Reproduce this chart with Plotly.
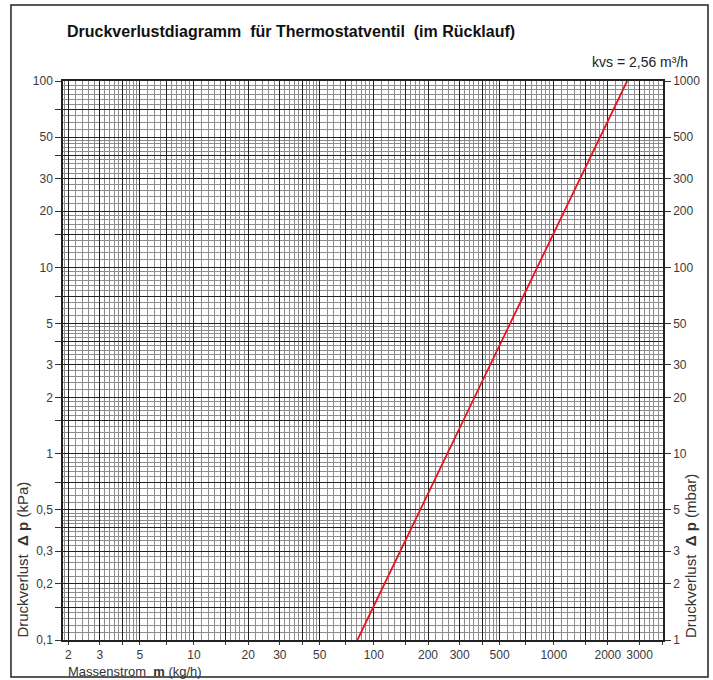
import plotly.graph_objects as go

# ---- data ----
mass_flow_kgh = [81, 2560]          # Massenstrom m (kg/h)
dp_kpa = [0.1, 100]                 # Druckverlust Δp (kPa)

x_tick_vals = [2, 3, 5, 10, 20, 30, 50, 100, 200, 300, 500, 1000, 2000, 3000]
x_tick_text = ["2", "3", "5", "10", "20", "30", "50", "100", "200", "300", "500", "1000", "2000", "3000"]
y_tick_vals = [0.1, 0.2, 0.3, 0.5, 1, 2, 3, 5, 10, 20, 30, 50, 100]
y_tick_text = ["0,1", "0,2", "0,3", "0,5", "1", "2", "3", "5", "10", "20", "30", "50", "100"]
y2_tick_vals = [1, 2, 3, 5, 10, 20, 30, 50, 100, 200, 300, 500, 1000]
y2_tick_text = ["1", "2", "3", "5", "10", "20", "30", "50", "100", "200", "300", "500", "1000"]

# log-paper grid mantissas
major_mant = [1, 1.5, 2, 3, 4, 5, 7]
minor_mant = [1.1, 1.2, 1.3, 1.4, 1.6, 1.7, 1.8, 1.9, 2.2, 2.4, 2.6, 2.8,
              3.2, 3.4, 3.6, 3.8, 4.2, 4.4, 4.6, 4.8, 5.5, 6, 6.5, 7.5, 8, 8.5, 9, 9.5]


def grid(mant, decades, lo, hi):
    out = []
    for d in decades:
        for m in mant:
            v = round(m * 10 ** d, 6)
            if lo <= v <= hi:
                out.append(v)
    return out


X_LO, X_HI = 1.87, 4050
Y_LO, Y_HI = 0.1, 100

x_major = grid(major_mant, range(0, 4), X_LO, X_HI)
x_minor = grid(minor_mant, range(0, 4), X_LO, X_HI)
y_major = grid(major_mant, range(-1, 3), Y_LO, Y_HI)
y_minor = grid(minor_mant, range(-1, 3), Y_LO, Y_HI)


def label_for(v, vals, texts):
    for tv, tt in zip(vals, texts):
        if abs(tv - v) < 1e-9 * max(1, tv):
            return tt
    return ""


x_major_all = sorted(set(x_major) | set(x_tick_vals))
y_major_all = sorted(set(y_major) | set(y_tick_vals))

fig = go.Figure()
fig.add_trace(go.Scatter(
    x=mass_flow_kgh, y=dp_kpa, mode="lines",
    line=dict(color="#e8141c", width=1.8), showlegend=False, hoverinfo="x+y"))
# same line on the mbar scale (invisible) so the right axis is drawn
fig.add_trace(go.Scatter(
    x=mass_flow_kgh, y=[v * 10 for v in dp_kpa], mode="lines", yaxis="y2",
    line=dict(color="rgba(0,0,0,0)", width=1), showlegend=False, hoverinfo="skip"))

FONT = "Liberation Sans, Arial, sans-serif"
tick_font = dict(family=FONT, size=12, color="#3a3a3a")

fig.update_layout(
    width=713, height=680,
    margin=dict(l=63, r=50, t=81, b=40),
    paper_bgcolor="white", plot_bgcolor="white",
    xaxis=dict(
        type="log", range=[0.2718, 3.6075],
        tickmode="array", tickvals=x_major_all,
        ticktext=[label_for(v, x_tick_vals, x_tick_text) for v in x_major_all],
        ticks="outside", ticklen=3, tickcolor="#333", tickwidth=1,
        tickfont=tick_font,
        showgrid=True, gridcolor="#222", gridwidth=1.4,
        minor=dict(tickmode="array", tickvals=x_minor, showgrid=True,
                   gridcolor="#8c8c8c", gridwidth=1, ticks=""),
        showline=True, linecolor="#222", linewidth=1.5, mirror=True,
        zeroline=False, fixedrange=True,
    ),
    yaxis=dict(
        type="log", range=[-1, 2],
        tickmode="array", tickvals=y_major_all,
        ticktext=[label_for(v, y_tick_vals, y_tick_text) for v in y_major_all],
        ticks="outside", ticklen=6, tickcolor="#333", tickwidth=1,
        tickfont=tick_font,
        showgrid=True, gridcolor="#222", gridwidth=1.4,
        minor=dict(tickmode="array", tickvals=y_minor, showgrid=True,
                   gridcolor="#8c8c8c", gridwidth=1, ticks=""),
        showline=True, linecolor="#222", linewidth=1.5, mirror=True,
        zeroline=False, fixedrange=True,
    ),
    yaxis2=dict(
        type="log", range=[0, 3], overlaying="y", side="right",
        tickmode="array", tickvals=y2_tick_vals, ticktext=y2_tick_text,
        ticks="outside", ticklen=6, tickcolor="#333", tickwidth=1,
        tickfont=tick_font, showgrid=False, zeroline=False,
        showline=True, linecolor="#222", linewidth=1.5, fixedrange=True,
    ),
    showlegend=False,
)

# outer frame of the chart sheet
fig.add_shape(type="rect", xref="paper", yref="paper",
              x0=-0.0867, x1=1.075, y0=-0.066, y1=1.136,
              line=dict(color="#222", width=1.5), layer="below")

fig.add_annotation(text="<b>Druckverlustdiagramm  für Thermostatventil  (im Rücklauf)</b>",
                   xref="paper", yref="paper", x=0.003, y=1.089,
                   xanchor="left", yanchor="middle", showarrow=False,
                   font=dict(family=FONT, size=16, color="#111"))
fig.add_annotation(text="kvs = 2,56 m³/h",
                   xref="paper", yref="paper", x=1.045, y=1.034,
                   xanchor="right", yanchor="middle", showarrow=False,
                   font=dict(family=FONT, size=14, color="#222"))
fig.add_annotation(text="Massenstrom  <b>m</b> (kg/h)",
                   xref="paper", yref="paper", x=0.005, y=-0.0565,
                   xanchor="left", yanchor="middle", showarrow=False,
                   font=dict(family=FONT, size=13, color="#333"))
fig.add_annotation(text="Druckverlust  <b>Δ p</b> (kPa)", textangle=-90,
                   xref="paper", yref="paper", x=-0.069, y=0.0,
                   xanchor="center", yanchor="bottom", showarrow=False,
                   font=dict(family=FONT, size=15, color="#333"))
fig.add_annotation(text="Druckverlust  <b>Δ p</b> (mbar)", textangle=-90,
                   xref="paper", yref="paper", x=1.045, y=0.0,
                   xanchor="center", yanchor="bottom", showarrow=False,
                   font=dict(family=FONT, size=15, color="#333"))

fig.write_html("out.html",
               config={"displayModeBar": False},
               post_script="document.body.style.margin='0';document.body.style.overflow='hidden';")
